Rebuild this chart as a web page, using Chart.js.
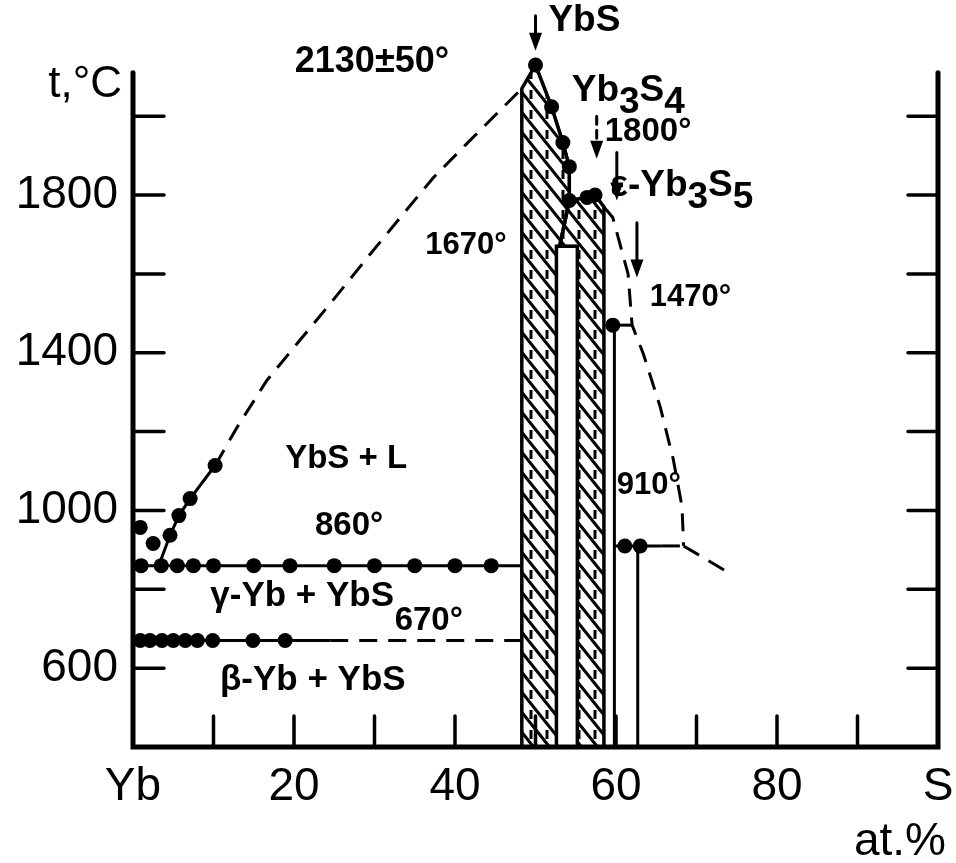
<!doctype html>
<html>

<head>
  <title>Yb - S</title>
  <script src="https://cdn.jsdelivr.net/npm/chart.js@4/dist/chart.umd.min.js"></script>
  <style>
    body { margin: 0; background: #fff; }
    #container { width: 956px; height: 863px; }
  </style>
</head>

<body>
<div id="container">
  <canvas id="canvas" width="956" height="863"></canvas>
</div>
<script>
  // axes: composition in at.% S, temperature in deg C
  var X_LABEL_TICKS = [0, 20, 40, 60, 80, 100];
  var X_LABELS = ['Yb', '20', '40', '60', '80', 'S'];
  var X_MARKS = [10, 20, 30, 40, 50, 60, 70, 80, 90];
  var Y_LABEL_TICKS = [600, 1000, 1400, 1800];
  var Y_MARKS = [600, 800, 1000, 1200, 1400, 1600, 1800, 2000];
  var T_MIN = 400, T_MAX = 2140, AXIS_TOP = 2110;

  // invariant temperatures
  var T_YBS_MELT = 2130;
  var T_YB3S4 = 1800;
  var T_1670 = 1670;
  var T_1470 = 1470;
  var T_910 = 910;
  var T_EUT = 860;
  var T_BG = 670;

  // measured points on the 860 and 670 horizontals
  var eutX = [1, 3.5, 5.5, 7.5, 10, 15, 19.5, 25, 30, 35, 40, 44.5];
  var bgX = [0.9, 2.1, 3.6, 5.0, 6.5, 8.0, 9.9, 14.9, 18.9];

  // liquidus on the Yb side
  var liqLowX = [0.9, 2.5, 4.6, 5.7, 7.1, 10.2];
  var liqLowT = [957, 916, 937, 987, 1030, 1114];
  var liqLineX = [3.2, 4.6, 5.7, 7.1, 10.2];
  var liqLineT = [860, 937, 987, 1030, 1114];
  var liqX = [10.2, 12.9, 16.6, 20.7, 24.8, 29.1, 33.2, 37.3, 41.5, 45.6, 48.3];
  var liqT = [1114, 1210, 1329, 1431, 1532, 1641, 1743, 1844, 1931, 2015, 2070];

  // YbS / Yb3S4 melting points
  var ybsX = [50, 52.0, 53.4, 54.2, 54.2, 56.4, 57.4];
  var ybsT = [T_YBS_MELT, 2024, 1933, 1872, 1786, 1794, T_YB3S4];

  // liquidus on the S side
  var liqRX = [58.5, 59.6, 61.5, 62.0, 63.4, 65.5, 67.1, 68.2, 68.4];
  var liqRT = [1770, 1743, 1600, T_1470, 1397, 1262, 1131, 1010, T_910];
  var tailX = [68.4, 74.5];
  var tailT = [T_910, 836];

  // single-phase fields (hatched)
  var ybsField = [[48.3, 400], [48.3, 2070], [50, 2130], [52.0, 2024], [53.4, 1933], [54.2, 1872],
    [54.2, 1786], [53.0, 1670], [52.6, 1670], [52.6, 400]];
  var yb3s4Field = [[55.2, 400], [55.2, 1670], [53.0, 1670], [54.2, 1786], [56.4, 1794],
    [57.4, 1800], [58.5, 1770], [58.5, 400]];

  // compounds drawn as lines
  var yb2s3X = 59.8;
  var yb3s5X = 62.7;
  var dots910X = [61.1, 63.0];

  // composition arrows: x, from T, to T, dashed
  var arrows = [
    [50, 2255, 2166, false],
    [57.6, 2000, 1892, true],
    [60.1, 1908, 1786, false],
    [62.6, 1730, 1591, false]
  ];

  // labels: text (_ = subscript), x, T, font size
  var labels = [
    ['2130\u00b150\u00b0', 20.1, 2136, 36],
    ['YbS', 51.6, 2242, 37],
    ['Yb_3S_4', 54.5, 2065, 37],
    ['1800\u00b0', 58.6, 1961, 33],
    ['\u03b5-Yb_3S_5', 59.3, 1824, 37],
    ['1670\u00b0', 36.3, 1672, 31],
    ['1470\u00b0', 64.2, 1540, 31],
    ['YbS + L', 18.9, 1132, 33],
    ['860\u00b0', 22.6, 962, 33],
    ['\u03b3-Yb + YbS', 9.6, 783, 35],
    ['670\u00b0', 32.5, 721, 33],
    ['\u03b2-Yb + YbS', 10.8, 569, 35],
    ['910\u00b0', 60.1, 1063, 31]
  ];

  var FONT = '"Liberation Sans", Arial, sans-serif';

  function pts(xs, ts) {
    return xs.map(function (x, i) { return {x: x, y: Array.isArray(ts) ? ts[i] : ts}; });
  }

  function line(data, dashed) {
    return {
      data: data,
      showLine: true,
      borderColor: '#000',
      borderWidth: 3,
      borderDash: dashed ? [18, 11] : [],
      pointRadius: 0,
      fill: false,
      clip: false
    };
  }

  function dots(data) {
    return {
      data: data,
      showLine: false,
      pointRadius: 7.5,
      pointBackgroundColor: '#000',
      pointBorderWidth: 0,
      clip: false
    };
  }

  function hatchPattern(ctx) {
    var c = document.createElement('canvas');
    c.width = 16;
    c.height = 20;
    var g = c.getContext('2d');
    g.strokeStyle = '#000';
    g.lineWidth = 3;
    g.beginPath();
    g.moveTo(0, 0); g.lineTo(16, 20);
    g.moveTo(-8, 10); g.lineTo(8, 30);
    g.moveTo(8, -10); g.lineTo(24, 10);
    g.moveTo(3, 10); g.lineTo(3, 19);
    g.stroke();
    return ctx.createPattern(c, 'repeat');
  }

  function drawRich(ctx, str, x, y, size) {
    ctx.font = 'bold ' + size + 'px ' + FONT;
    ctx.textAlign = 'left';
    ctx.textBaseline = 'middle';
    var cx = x;
    for (var i = 0; i < str.length; i++) {
      var sub = false, ch = str[i];
      if (ch === '_') { sub = true; ch = str[++i]; }
      ctx.fillText(ch, cx, sub ? y + size * 0.33 : y);
      cx += ctx.measureText(ch).width;
    }
  }

  var phasePlugin = {
    id: 'phaseFields',
    beforeDatasetsDraw: function (chart) {
      var ctx = chart.ctx, xs = chart.scales.x, ys = chart.scales.y;
      var pattern = hatchPattern(ctx);
      [ybsField, yb3s4Field].forEach(function (poly) {
        ctx.save();
        ctx.beginPath();
        poly.forEach(function (p, i) {
          var px = xs.getPixelForValue(p[0]), py = ys.getPixelForValue(p[1]);
          if (i === 0) ctx.moveTo(px, py); else ctx.lineTo(px, py);
        });
        ctx.closePath();
        ctx.fillStyle = pattern;
        ctx.fill();
        ctx.lineWidth = 3.5;
        ctx.strokeStyle = '#000';
        ctx.stroke();
        ctx.restore();
      });
    },
    afterDatasetsDraw: function (chart) {
      var ctx = chart.ctx, xs = chart.scales.x, ys = chart.scales.y;
      var x0 = xs.getPixelForValue(0), x1 = xs.getPixelForValue(100);
      var yb = ys.getPixelForValue(T_MIN), yt = ys.getPixelForValue(AXIS_TOP);
      ctx.save();
      ctx.strokeStyle = '#000';
      ctx.fillStyle = '#000';
      ctx.lineCap = 'round';

      // frame
      ctx.lineWidth = 5;
      ctx.beginPath();
      ctx.moveTo(x0, yt); ctx.lineTo(x0, yb); ctx.lineTo(x1, yb); ctx.lineTo(x1, yt);
      ctx.stroke();

      // inward tick marks
      ctx.lineWidth = 3.5;
      ctx.beginPath();
      Y_MARKS.forEach(function (t) {
        var py = ys.getPixelForValue(t);
        ctx.moveTo(x0, py); ctx.lineTo(x0 + 31, py);
        ctx.moveTo(x1, py); ctx.lineTo(x1 - 30, py);
      });
      X_MARKS.forEach(function (v) {
        var px = xs.getPixelForValue(v);
        ctx.moveTo(px, yb); ctx.lineTo(px, yb - 31);
      });
      ctx.stroke();

      // arrows
      arrows.forEach(function (a) {
        var px = xs.getPixelForValue(a[0]);
        var p0 = ys.getPixelForValue(a[1]), p1 = ys.getPixelForValue(a[2]);
        ctx.lineWidth = 3;
        ctx.setLineDash(a[3] ? [8, 6] : []);
        ctx.beginPath();
        ctx.moveTo(px, p0); ctx.lineTo(px, p1 - 14);
        ctx.stroke();
        ctx.setLineDash([]);
        ctx.beginPath();
        ctx.moveTo(px - 6.5, p1 - 18); ctx.lineTo(px + 6.5, p1 - 18); ctx.lineTo(px, p1);
        ctx.closePath();
        ctx.fill();
      });

      // field and temperature labels
      labels.forEach(function (l) {
        drawRich(ctx, l[0], xs.getPixelForValue(l[1]), ys.getPixelForValue(l[2]), l[3]);
      });

      // axis titles
      ctx.font = '44px ' + FONT;
      ctx.textBaseline = 'middle';
      ctx.textAlign = 'right';
      ctx.fillText('t,\u00b0C', x0 - 11, ys.getPixelForValue(2080));
      ctx.font = '46px ' + FONT;
      ctx.fillText('at.%', x1 + 8, yb + 95);
      ctx.restore();
    }
  };

  window.onload = function () {
    var ctx = document.getElementById('canvas').getContext('2d');
    window.myChart = new Chart(ctx, {
      type: 'scatter',
      data: {
        datasets: [
          line(pts([0, 48.3], T_EUT), false),
          line(pts([0, 24.5], T_BG), false),
          line(pts([24.5, 48.3], T_BG), true),
          line(pts(liqLineX, liqLineT), false),
          line(pts(liqX, liqT), true),
          line(pts(ybsX, ybsT), false),
          line(pts(liqRX, liqRT), true),
          line(pts([yb2s3X, yb2s3X], [T_MIN, T_1470]), false),
          line(pts([59.6, 62.0], T_1470), false),
          line(pts([yb2s3X, 65.7], T_910), false),
          line(pts([65.7, 68.4], T_910), true),
          line(pts([yb3s5X, yb3s5X], [T_MIN, T_910]), false),
          line(pts(tailX, tailT), true),
          line(pts([52.6, 55.2], T_1670), false),
          dots(pts(eutX, T_EUT).concat(pts(bgX, T_BG), pts(liqLowX, liqLowT), pts(ybsX, ybsT),
            pts([59.6], T_1470), pts(dots910X, T_910)))
        ]
      },
      options: {
        responsive: false,
        animation: false,
        layout: {padding: {top: 61, right: 18, left: 0, bottom: 0}},
        plugins: {legend: {display: false}, tooltip: {enabled: false}},
        scales: {
          x: {
            type: 'linear',
            min: 0,
            max: 100,
            grid: {display: false, drawTicks: false},
            border: {display: false},
            afterBuildTicks: function (scale) {
              scale.ticks = X_LABEL_TICKS.map(function (v) { return {value: v}; });
            },
            afterFit: function (scale) {
              scale.height = 116;
              scale.paddingLeft = 0;
              scale.paddingRight = 0;
            },
            ticks: {
              padding: 13,
              color: '#000',
              font: {family: FONT, size: 46},
              maxRotation: 0,
              autoSkip: false,
              callback: function (v) {
                var i = X_LABEL_TICKS.indexOf(v);
                return i < 0 ? '' : X_LABELS[i];
              }
            }
          },
          y: {
            type: 'linear',
            min: T_MIN,
            max: T_MAX,
            grid: {display: false, drawTicks: false},
            border: {display: false},
            afterBuildTicks: function (scale) {
              scale.ticks = Y_LABEL_TICKS.map(function (v) { return {value: v}; });
            },
            afterFit: function (scale) {
              scale.width = 133;
              scale.paddingTop = 0;
              scale.paddingBottom = 0;
            },
            ticks: {
              padding: 15,
              color: '#000',
              font: {family: FONT, size: 46},
              autoSkip: false,
              callback: function (v) { return String(v); }
            }
          }
        }
      },
      plugins: [phasePlugin]
    });
  };
</script>
</body>

</html>
